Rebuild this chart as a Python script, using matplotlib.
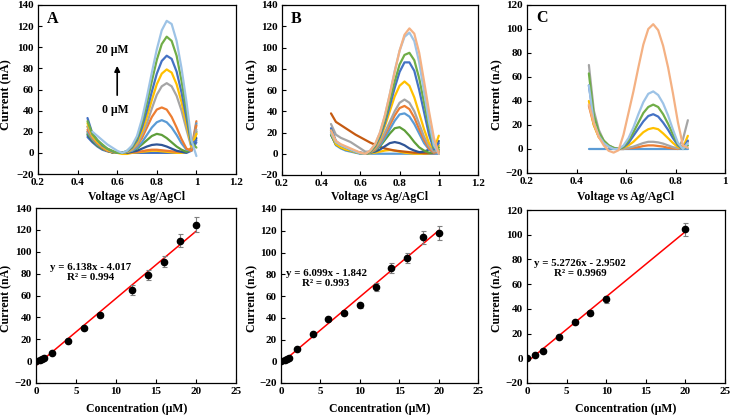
import numpy as np
import matplotlib
matplotlib.use("Agg")
import matplotlib.pyplot as plt

plt.rcParams['font.family'] = ['Liberation Serif', 'DejaVu Serif']
plt.rcParams['font.weight'] = 'bold'

nan = np.nan

# ---- voltammograms, panel A (0.45 .. 1.0 V, step 0.025) ----
volt_a = np.round(np.arange(0.45, 1.0001, 0.025), 3)
conc_a = [0, 0.5, 1, 2, 4, 6, 8, 12, 14, 16, 18, 20]
colors_a = ['#4472C4', '#FFC000', '#ED7D31', '#2F5597', '#5E9E3A', '#5B9BD5',
            '#ED7D31', '#A5A5A5', '#FFC000', '#4472C4', '#70AD47', '#9DC3E6']
curves_a = [
    [15, 10, 6, 3, 1.5, 0.5, 0, 0, 0, 0, 0, 0, 0, 0, 0, 0, 0, 0, 0, 0, 0, 2, 10],
    [25, 14, 8, 4, 2, 0.5, 0, -1, -1, 0, 0.5, 1, 1.5, 2, 2, 1.5, 1, 0.5, 0, 0, 1, 5, 18],
    [20, 12, 7, 4, 2, 0.5, 0, 0, 0, 0.5, 1, 1.5, 2.5, 3, 3, 2.5, 2, 1.5, 1, 1, 1, 4, 30],
    [17, 11, 7, 4, 2, 0.5, 0, 0, 0, 1, 2, 4, 6, 7.5, 8, 7.5, 6, 4, 2, 1, 0.5, 3, 14],
    [18, 12, 7, 4, 2, 0.5, 0, 0, 0.5, 2, 4, 8, 12, 16, 18, 17, 14, 10, 6, 3, 1, 3, 20],
    [20, 13, 8, 5, 2, 1, 0, 0, 1, 2, 5, 10, 17, 24, 29, 31, 29, 24, 17, 9, 3, 2, 28],
    [22, 14, 9, 5, 2, 1, 0, 0, 1, 3, 7, 14, 24, 34, 41, 43, 41, 34, 24, 13, 4, 2, 26],
    [25, 15, 10, 6, 3, 1, 0, 0, 1, 3, 8, 17, 28, 42, 55, 63, 66, 63, 54, 40, 22, 5, 22],
    [28, 16, 10, 6, 3, 1, 0, 0, 1, 4, 10, 20, 34, 50, 65, 75, 79, 76, 65, 48, 27, 6, 18],
    [33, 18, 12, 7, 4, 1.5, 0, 0, 1.5, 5, 12, 24, 40, 58, 75, 87, 92, 89, 77, 57, 33, 8, 12],
    [30, 18, 12, 8, 4, 2, 0, 0, 2, 6, 14, 28, 47, 68, 88, 103, 110, 106, 92, 68, 40, 10, 5],
    [nan, 20, 16, 12, 8, 5, 2, 0, 2, 7, 16, 32, 53, 76, 98, 116, 125, 122, 106, 80, 48, 12, -3],
]

# ---- voltammograms, panel B (0.45 .. 1.0 V, step 0.025) ----
volt_b = volt_a
conc_b = [0, 0.5, 1, 2, 4, 6, 8, 10, 12, 14, 16, 18, 20]
colors_b = ['#5B9BD5', '#FFC000', '#C55A11', '#2F5597', '#5E9E3A', '#5B9BD5', '#ED7D31',
            '#A5A5A5', '#FFC000', '#4472C4', '#70AD47', '#9DC3E6', '#F4B183']
curves_b = [
    [18, 8, 5, 3, 2, 1, 0, 0, 0, 0, 0, 0, 0, 0, 0, 0, 0, 0, 0, 0, 0, 0, 0],
    [22, 9, 6, 4, 3, 1.5, 0.5, 0, 0.5, 1, 2, 3, 3.5, 3, 2, 1, 0.5, 0, 0, 0, 0.5, 2, 8],
    [38, 30, 27, 24, 21, 18, 15.5, 13, 10.5, 8.5, 6.5, 5, 4, 3, 2.5, 2, 1.5, 1, 1, 0.5, 0.5, 0.5, 1],
    [18, 9, 6, 4, 3, 2, 1, 0.5, 1, 2, 4, 7, 10, 11, 10, 8, 5, 3, 1.5, 2, 4, 6, 12],
    [18, 9, 6, 4, 3, 1.5, 0.5, 0, 1, 3, 7, 13, 19, 24, 25, 22, 17, 11, 6, 3, 1, 1, 6],
    [20, 10, 7, 5, 3, 1.5, 0.5, 0, 1, 3.5, 8, 15, 23, 31, 37, 38, 35, 28, 19, 10, 4, 1, 0],
    [22, 11, 8, 6, 4, 2, 1, 0, 1.5, 4, 10, 18, 27, 36, 43, 45, 42, 34, 23, 13, 5, 1, 2],
    [28, 18, 15, 13, 11, 8, 5, 2, 2, 5, 11, 20, 30, 40, 48, 51, 48, 40, 28, 16, 7, 2, 3],
    [20, 9, 6, 4, 3, 1.5, 0.5, 0, 2, 6, 14, 26, 40, 54, 64, 68, 64, 53, 38, 23, 10, 4, 17],
    [24, 12, 8, 6, 4, 2, 0.5, 0, 2, 7, 16, 29, 45, 62, 77, 86, 86, 78, 60, 39, 18, 4, 10],
    [22, 11, 8, 6, 4, 2, 0.5, 0, 2, 8, 18, 32, 50, 68, 84, 93, 95, 88, 71, 48, 25, 6, 4],
    [20, 11, 8, 6, 4, 2, 0.5, 0, 3, 9, 20, 36, 56, 78, 97, 110, 114, 106, 86, 58, 30, 8, 0],
    [22, 12, 9, 7, 5, 3, 1, 0, 3, 9, 20, 36, 56, 77, 97, 112, 118, 113, 95, 68, 40, 15, 0],
]

# ---- voltammograms, panel C (0.45 .. 0.85 V, step 0.02) ----
volt_c = np.round(np.arange(0.45, 0.8501, 0.02), 3)
conc_c = [0, 1, 2, 4, 6, 8, 10, 20]
colors_c = ['#5B9BD5', '#ED7D31', '#A5A5A5', '#FFC000', '#4472C4', '#70AD47', '#9DC3E6', '#F4B183']
curves_c = [
    [0] * 21,
    [36, 20, 10, 5, 2, 0.5, 0, 0, 0.5, 1, 1.5, 2.5, 3, 3, 2.5, 2, 1, 0.5, 0, 3, 6],
    [70, 32, 16, 7, 3, 1, 0, 0, 1, 2, 3.5, 5, 6, 6, 5.5, 4.5, 3, 1.5, 0.5, 8, 24],
    [40, 20, 10, 5, 2, 0.5, 0, 1, 3, 6, 10, 14, 16.5, 17.5, 16.5, 13, 9, 5, 1.5, 1, 11],
    [53, 25, 12, 6, 2.5, 0.5, 0, 1.5, 5, 11, 17, 23, 27.5, 29, 27, 22, 16, 9, 3, 0, 7],
    [63, 28, 14, 7, 3, 1, 0, 2, 7, 14, 22, 30, 35, 37, 35, 29, 21, 12, 4, 0, 3],
    [53, 22, 11, 5, 2, 0, 0, 3, 9, 18, 29, 39, 46, 48, 45, 38, 28, 16, 5, 0, 5],
    [37, 22, 10, 3, -1.5, -3, -1, 12, 30, 48, 68, 87, 100, 104, 99, 86, 68, 46, 22, 3, 1],
]

# ---- calibration data ----
cal_conc_a = [0, 0.5, 0.8, 1, 2, 4, 6, 8, 12, 14, 16, 18, 20]
cal_curr_a = [0, 1.4, 2, 2.6, 7.5, 18, 30, 42.4, 65, 78.5, 91, 110, 124.7]
cal_err_a = [0.5, 0.5, 0.5, 0.8, 1, 1.2, 1.5, 2, 4.4, 4.7, 5, 6, 6.9]
fit_a = (6.138, -4.017)

cal_conc_b = [0, 0.5, 0.8, 1, 2, 4, 6, 8, 10, 12, 14, 16, 18, 20]
cal_curr_b = [0, 1.5, 2, 3, 11.4, 25, 38.5, 44.6, 51.4, 68, 86, 95, 114, 118]
cal_err_b = [0.5, 0.5, 0.5, 0.8, 1, 1.2, 1.5, 2, 2.6, 3.8, 4.6, 5, 6, 6.5]
fit_b = (6.099, -1.842)

cal_conc_c = [0, 1, 2, 4, 6, 8, 10, 20]
cal_curr_c = [0, 2.7, 5.5, 17.3, 29, 37, 47.6, 104.3]
cal_err_c = [0.5, 0.8, 1, 1.2, 1.5, 2, 2.5, 5.4]
fit_c = (5.2726, -2.9502)

W, H = 732, 416
fig = plt.figure(figsize=(W / 100, H / 100), dpi=100)


def add_ax(l, t, r, b):
    return fig.add_axes([l / W, 1 - b / H, (r - l) / W, (b - t) / H])


def style(ax, xlim, xticks, ylim, yticks, xfmt):
    ax.set_xlim(*xlim)
    ax.set_ylim(*ylim)
    ax.set_xticks(xticks)
    ax.set_yticks(yticks)
    ax.set_xticklabels([xfmt(v) for v in xticks])
    ax.tick_params(direction='in', length=3, width=0.8, labelsize=8, pad=3)
    for s in ax.spines.values():
        s.set_linewidth(0.9)
    for lab in ax.get_xticklabels() + ax.get_yticklabels():
        lab.set_fontweight('bold')


def vfmt(v):
    return ('%g' % round(v, 1))


ax_top = [add_ax(38, 5, 236, 174), add_ax(282, 5, 478, 175), add_ax(527, 5, 725, 173)]
ax_bot = [add_ax(36, 208, 236, 383), add_ax(281, 209, 478, 383), add_ax(527, 210, 725, 383)]

tops = [(volt_a, curves_a, colors_a), (volt_b, curves_b, colors_b), (volt_c, curves_c, colors_c)]
for ax, (vv, cc, cols) in zip(ax_top, tops):
    for ys, col in zip(cc, cols):
        ax.plot(vv, ys, color=col, lw=1.6, solid_capstyle='round')

style(ax_top[0], (0.2, 1.2), np.arange(0.2, 1.21, 0.2), (-20, 140), range(-20, 141, 20), vfmt)
style(ax_top[1], (0.2, 1.2), np.arange(0.2, 1.21, 0.2), (-20, 140), range(-20, 141, 20), vfmt)
style(ax_top[2], (0.2, 1.0), np.arange(0.2, 1.01, 0.2), (-20, 120), range(-20, 121, 20), vfmt)

for ax, lab in zip(ax_top, ['A', 'B', 'C']):
    ax.text(0.045, 0.92, lab, transform=ax.transAxes, fontsize=11.5, fontweight='bold',
            ha='left', va='center')

# concentration arrow in A
ax_top[0].annotate('', xy=(0.6, 85), xytext=(0.6, 52),
                   arrowprops=dict(arrowstyle='-|>', color='black', lw=1.2, mutation_scale=8))
ax_top[0].text(0.575, 97, '20 μM', fontsize=8.5, fontweight='bold', ha='center', va='center')
ax_top[0].text(0.59, 41, '0 μM', fontsize=8.5, fontweight='bold', ha='center', va='center')

cals = [(cal_conc_a, cal_curr_a, cal_err_a, fit_a),
        (cal_conc_b, cal_curr_b, cal_err_b, fit_b),
        (cal_conc_c, cal_curr_c, cal_err_c, fit_c)]
for ax, (cx, cy, ce, (m, q)) in zip(ax_bot, cals):
    xx = np.array([0, max(cx)])
    ax.plot(xx, m * xx + q, color='#FF0000', lw=1.1, zorder=2)
    ax.errorbar(cx, cy, yerr=ce, fmt='none', ecolor='#7F7F7F', elinewidth=0.8,
                capsize=1.8, capthick=0.8, zorder=3)
    ax.plot(cx, cy, 'o', color='black', ms=4.5, zorder=4)

style(ax_bot[0], (0, 25), range(0, 26, 5), (-20, 140), range(-20, 141, 20), vfmt)
style(ax_bot[1], (0, 25), range(0, 26, 5), (-20, 140), range(-20, 141, 20), vfmt)
style(ax_bot[2], (0, 25), range(0, 26, 5), (-20, 120), range(-20, 121, 20), vfmt)

eq_pos = [(91, 267, 278), (326, 273, 284), (580, 263, 274)]
eq_txt = [('y = 6.138x - 4.017', 'R² = 0.994'),
          ('y = 6.099x - 1.842', 'R² = 0.993'),
          ('y = 5.2726x - 2.9502', 'R² = 0.9969')]
for (px, py1, py2), (t1, t2) in zip(eq_pos, eq_txt):
    fig.text(px / W, 1 - py1 / H, t1, fontsize=7.8, fontweight='bold', ha='center', va='center')
    fig.text(px / W, 1 - py2 / H, t2, fontsize=7.8, fontweight='bold', ha='center', va='center')

# axis titles
for cx, ylx in [(137, 6), (380, 252), (626, 497)]:
    fig.text(cx / W, 1 - 197 / H, 'Voltage vs Ag/AgCl', fontsize=8.5, fontweight='bold',
             ha='center', va='center')
    fig.text(cx / W, 1 - 409 / H, 'Concentration (μM)', fontsize=8.5, fontweight='bold',
             ha='center', va='center')
    fig.text(ylx / W, 1 - 95 / H, 'Current (nA)', fontsize=9, fontweight='bold',
             ha='center', va='center', rotation=90)
    fig.text(ylx / W, 1 - 298 / H, 'Current (nA)', fontsize=8.5, fontweight='bold',
             ha='center', va='center', rotation=90)

fig.savefig('out.png', dpi=100)
